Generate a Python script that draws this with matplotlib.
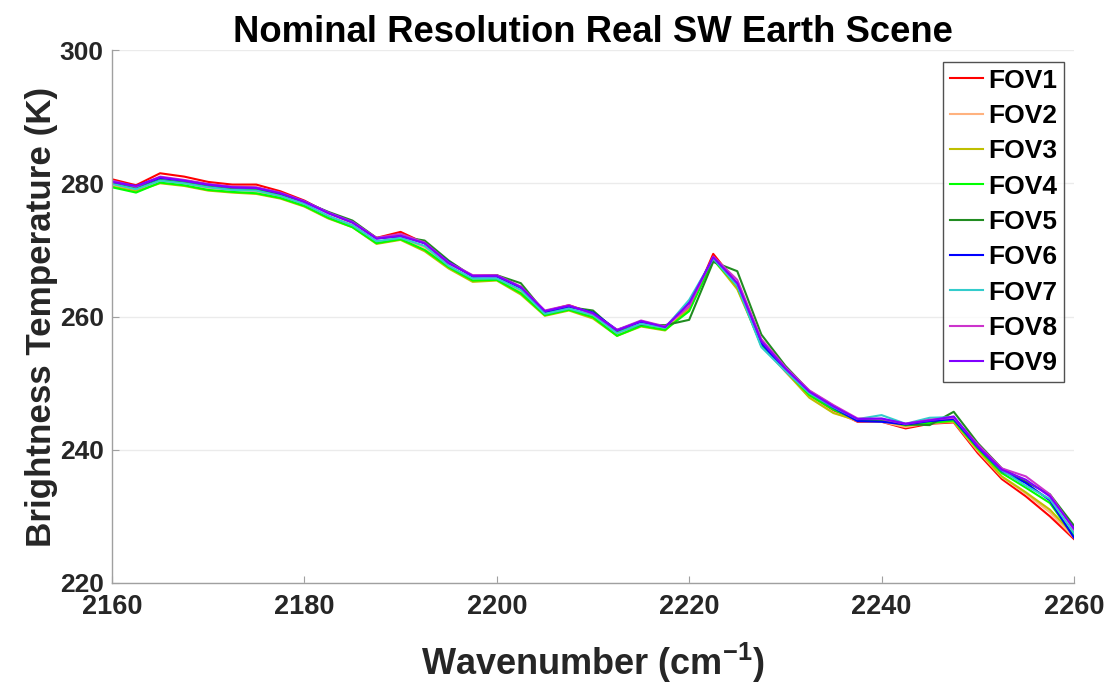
import numpy as np
import matplotlib
matplotlib.use("Agg")
import matplotlib.pyplot as plt

plt.rcParams['font.family'] = ['Liberation Sans', 'DejaVu Sans']
plt.rcParams['font.weight'] = 'bold'
plt.rcParams['mathtext.fontset'] = 'custom'
plt.rcParams['mathtext.rm'] = 'Liberation Sans:bold'
plt.rcParams['mathtext.bf'] = 'Liberation Sans:bold'
plt.rcParams['mathtext.default'] = 'bf'

# Spectral grid (cm^-1), 2.5 cm^-1 spacing
wavenumber = np.arange(2160.0, 2260.0 + 0.1, 2.5)

fov1 = [280.6, 279.7, 281.5, 281.0, 280.2, 279.8, 279.8, 278.8, 277.4, 275.5, 274.1, 271.8, 272.7, 271.0,
        268.0, 266.1, 266.2, 264.3, 260.8, 261.7, 260.5, 257.9, 259.3, 258.4, 261.0, 269.4, 264.9, 256.2,
        251.8, 248.2, 245.9, 244.2, 244.2, 243.2, 243.9, 244.1, 239.5, 235.6, 233.0, 230.0, 226.6]
fov2 = [279.8, 279.0, 280.4, 280.0, 279.3, 279.0, 278.8, 278.0, 276.8, 275.0, 273.7, 271.2, 271.8, 270.4,
        267.5, 265.6, 265.7, 263.8, 260.4, 261.2, 260.0, 257.4, 258.8, 258.1, 261.6, 268.8, 264.3, 255.7,
        251.7, 247.9, 245.6, 244.3, 244.2, 243.4, 244.0, 244.2, 239.8, 235.9, 233.4, 230.6, 226.8]
fov3 = [279.5, 278.8, 280.0, 279.6, 278.9, 278.6, 278.4, 277.7, 276.5, 274.7, 273.4, 270.9, 271.5, 269.8,
        267.2, 265.2, 265.4, 263.3, 260.1, 260.9, 259.7, 257.1, 258.5, 257.9, 261.2, 268.6, 264.1, 255.8,
        251.8, 247.8, 245.5, 244.4, 244.4, 243.6, 244.1, 244.2, 240.0, 236.0, 233.6, 231.0, 227.2]
fov4 = [279.4, 278.6, 280.1, 279.7, 279.0, 278.7, 278.5, 277.8, 276.6, 274.8, 273.4, 271.0, 271.6, 270.0,
        267.4, 265.4, 265.5, 263.5, 260.2, 261.0, 259.9, 257.1, 258.6, 258.0, 260.8, 268.5, 264.6, 255.6,
        251.9, 248.2, 246.0, 244.5, 244.5, 243.7, 244.0, 244.4, 240.2, 236.5, 234.3, 232.0, 227.0]
fov5 = [280.0, 279.2, 280.5, 280.1, 279.5, 279.1, 279.0, 278.3, 277.2, 275.7, 274.4, 271.8, 272.0, 271.4,
        268.4, 266.0, 266.2, 265.0, 260.6, 261.4, 260.9, 257.7, 258.8, 258.7, 259.5, 268.2, 266.8, 257.3,
        252.6, 248.8, 246.6, 244.5, 244.5, 243.8, 243.7, 245.7, 241.0, 237.2, 235.2, 233.3, 228.6]
fov6 = [280.3, 279.5, 280.8, 280.4, 279.8, 279.4, 279.3, 278.5, 277.3, 275.6, 274.2, 271.7, 272.1, 271.0,
        268.2, 266.0, 266.0, 264.3, 260.7, 261.5, 260.6, 258.0, 259.2, 258.4, 262.1, 268.8, 264.7, 256.0,
        251.9, 248.6, 246.3, 244.3, 244.2, 243.8, 244.3, 244.6, 240.4, 236.8, 235.0, 232.4, 226.8]
fov7 = [279.9, 279.1, 280.4, 280.0, 279.4, 279.0, 278.9, 278.1, 276.9, 275.1, 273.7, 271.3, 271.8, 270.6,
        267.6, 265.7, 265.7, 264.0, 260.4, 261.2, 260.2, 257.5, 258.9, 258.3, 262.5, 268.7, 264.6, 255.4,
        251.8, 248.5, 246.4, 244.6, 245.2, 243.9, 244.8, 244.9, 240.6, 236.9, 234.6, 232.6, 227.5]
fov8 = [280.4, 279.5, 281.0, 280.5, 279.9, 279.5, 279.4, 278.6, 277.3, 275.6, 274.2, 271.8, 272.4, 271.1,
        268.1, 266.2, 266.2, 264.5, 260.9, 261.7, 260.4, 258.0, 259.4, 258.5, 261.5, 269.0, 265.5, 256.6,
        252.4, 248.9, 246.7, 244.7, 244.6, 243.9, 244.5, 244.8, 240.8, 237.2, 236.0, 233.3, 228.0]
fov9 = [280.2, 279.6, 280.9, 280.4, 279.8, 279.4, 279.3, 278.5, 277.2, 275.5, 274.1, 271.7, 272.1, 271.0,
        268.0, 266.1, 266.1, 264.4, 260.8, 261.6, 260.5, 257.9, 259.3, 258.4, 262.0, 268.9, 265.0, 256.3,
        252.2, 248.7, 246.5, 244.6, 244.7, 243.9, 244.4, 245.0, 240.5, 237.0, 235.5, 233.0, 228.2]

labels = ['FOV1', 'FOV2', 'FOV3', 'FOV4', 'FOV5', 'FOV6', 'FOV7', 'FOV8', 'FOV9']
series = [fov1, fov2, fov3, fov4, fov5, fov6, fov7, fov8, fov9]
colors = ['#ff0000', '#ffb27f', '#bfbf00', '#00ff00', '#218c21',
          '#0000ff', '#33cccc', '#cc33cc', '#8000ff']

xticks = [2160, 2180, 2200, 2220, 2240, 2260]
yticks = [220, 240, 260, 280, 300]

fig = plt.figure(figsize=(11.12, 6.87), dpi=100)
ax = fig.add_axes([0.1007, 0.1514, 0.8651, 0.7758])

for y, c, lab in zip(series, colors, labels):
    ax.plot(wavenumber, y, color=c, lw=1.5, label=lab)

ax.set_xlim(2160, 2260)
ax.set_ylim(220, 300)
ax.set_xticks(xticks)
ax.set_yticks(yticks)
ax.yaxis.grid(True, color='#ebebeb', lw=1.0)
ax.set_axisbelow(True)

for s in ['top', 'right']:
    ax.spines[s].set_visible(False)
for s in ['left', 'bottom']:
    ax.spines[s].set_color('#a0a0a0')
    ax.spines[s].set_linewidth(1.0)

ax.tick_params(direction='in', length=5, color='#a0a0a0', labelsize=19.5,
               labelcolor='#262626')
ax.tick_params(axis='x', pad=8)
ax.tick_params(axis='y', pad=6, labelsize=19)
for t in ax.get_xticklabels() + ax.get_yticklabels():
    t.set_fontweight('bold')

ax.set_title('Nominal Resolution Real SW Earth Scene', fontsize=26.3, fontweight='bold', pad=6)
ax.set_xlabel('Wavenumber (cm$^{-1}$)', fontsize=26, fontweight='bold', color='#262626', labelpad=15)
ax.set_ylabel('Brightness Temperature (K)', fontsize=25.2, fontweight='bold', color='#262626', labelpad=1)

leg = ax.legend(loc='upper right', bbox_to_anchor=(0.9896, 0.9775), fontsize=19, frameon=True,
                fancybox=False, edgecolor='#262626', handlelength=1.25, handletextpad=0.2,
                labelspacing=0.43, borderpad=0.25, borderaxespad=0.0)
leg.get_frame().set_linewidth(1.0)
for t in leg.get_texts():
    t.set_fontweight('bold')

fig.savefig('out.png', dpi=100, facecolor='white')
